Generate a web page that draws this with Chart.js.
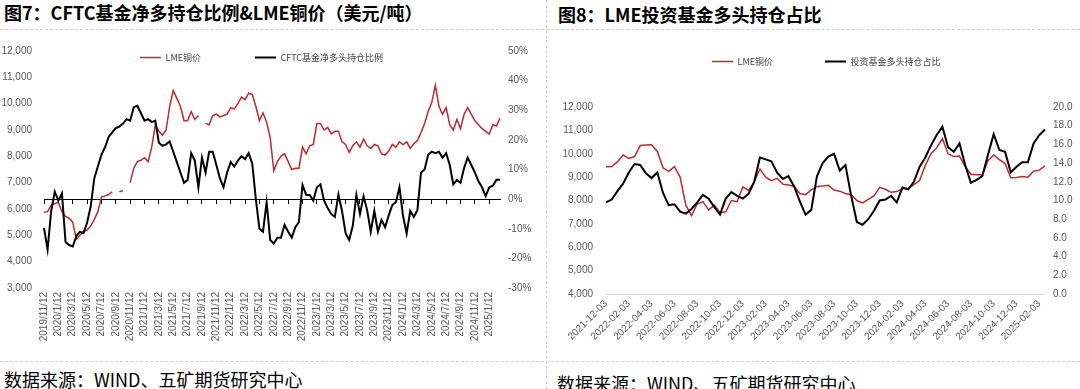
<!DOCTYPE html>
<html lang="zh-CN">
<head>
<meta charset="utf-8">
<script src="https://cdn.jsdelivr.net/npm/chart.js@4.4.1/dist/chart.umd.min.js"></script>
<style>
  body { margin: 0; width: 1080px; height: 389px; overflow: hidden; background: #fff; position: relative; font-family: "Noto Sans CJK SC", sans-serif; }
  .title { position: absolute; font-size: 18px; font-weight: 700; color: #000; line-height: 20px; white-space: nowrap; }
  .source { position: absolute; font-size: 18px; color: #000; line-height: 20px; white-space: nowrap; }
  .hline { position: absolute; left: 0; width: 1080px; border-top: 1px dashed #cfcfcf; }
  .vline { position: absolute; top: 0; left: 546px; height: 389px; border-left: 1px dashed #cfcfcf; }
  canvas { position: absolute; }
</style>
</head>
<body>
<div class="title" style="left:4px; top:2px;">图7：CFTC基金净多持仓比例&amp;LME铜价（美元/吨）</div>
<div class="title" style="left:558px; top:4px;">图8：LME投资基金多头持仓占比</div>
<div class="hline" style="top:29px;"></div>
<div class="hline" style="top:361px;"></div>
<div class="vline"></div>
<canvas id="cftcChart" width="545" height="328" style="left:0; top:32px;"></canvas>
<canvas id="fundChart" width="533" height="328" style="left:547px; top:32px;"></canvas>
<div class="source" style="left:4px; top:369px;">数据来源：WIND、五矿期货研究中心</div>
<div class="source" style="left:557px; top:373px;">数据来源：WIND、五矿期货研究中心</div>

<script>
// ========== 1. DONNÉES ==========
// Figure 7 : points semi-mensuels (le 12 et le 27), 2019/11/12 -> 2025/2/27
const cftcDates = [];
for (let i = 0; i < 128; i++) {
    const m = 10 + Math.floor(i / 2);
    cftcDates.push(`${2019 + Math.floor(m / 12)}/${m % 12 + 1}/${i % 2 ? 27 : 12}`);
}
const cftcTicks = ['2019/11/12', '2020/1/12', '2020/3/12', '2020/5/12', '2020/7/12', '2020/9/12', '2020/11/12',
    '2021/1/12', '2021/3/12', '2021/5/12', '2021/7/12', '2021/9/12', '2021/11/12',
    '2022/1/12', '2022/3/12', '2022/5/12', '2022/7/12', '2022/9/12', '2022/11/12',
    '2023/1/12', '2023/3/12', '2023/5/12', '2023/7/12', '2023/9/12', '2023/11/12',
    '2024/1/12', '2024/3/12', '2024/5/12', '2024/7/12', '2024/9/12', '2024/11/12', '2025/1/12'];

const lmeCopper7 = [
    5880, 5900, 6150, 6200, 6250, 5900, 5720, 5650, 5500, 4850, 5000, 5150, 5200, 5350, 5600, 5900,
    6450, 6500, 6550, 6650, null, 6650, 6700, null, 7000, 7550, 7800, 7850, 7950, 7800, 8350, 9200,
    8950, 8800, 9000, 9900, 10500, 10200, 9900, 9350, 9350, 9700, 9400, 9550, null, 9250, 9200, 9550,
    9600, 9500, 9550, 9600, 9850, 9800, 10000, 10250, 10150, 10400, 10350, 9900, 9350, 9650, 9300, 8700,
    7450, 7800, 8000, 8100, 7800, 7500, 7550, 7550, 8350, 8100, 8400, 8450, 9250, 9250, 9000, 9100,
    8850, 8950, 8950, 8550, 8450, 8150, 8400, 8550, 8350, 8650, 8400, 8300, 8450, 8400, 8100, 8050,
    8200, 8450, 8350, 8550, 8450, 8550, 8300, 8480, 8600, 8900, 9250, 9700, 10050, 10700, 9900, 9600,
    9850, 9200, 9000, 9400, 9050, 9600, 9850, 9600, 9350, 9200, 9050, 8950, 8850, 9200, 9150, 9450
];
const cftcNetLong = [
    -9.7, -17, -4, 2.5, -0.5, 2, -14.5, -15.5, -16, -12.5, -11, -11.5, -8, -2.5, 7, 11,
    15, 17.5, 21, 22.5, 24, 24.5, 25.5, 27, 26.5, 31, 31.5, 29, 26.5, 27, 26, 26.5,
    19, 18, 18.5, 19.5, 16, 12.5, 9, 5.5, 6.5, 15.5, 13, 4, 14, 9, 16, 16,
    11.5, 7, 4, 9, 12.5, 11, 13, 14.5, 13.5, 15.5, 12, 0, -10, -11, -1, -13.8,
    -15, -13, -13, -8.7, -11, -13, -9.5, -7.7, 4.8, 1.5, 1.4, -0.5, 4, 5, -0.5, -3,
    -5, -6, 1.5, -4, -11.5, -13.8, -9, 1.4, -5, 1, -3.7, -11, -4, -11, -7, -9.5,
    -5.5, -2, -1, 4, -5.7, -11.6, -4, -6, -3.7, 9, 10, 15, 16, 15.5, 16, 14,
    15.5, 11.5, 5, 6.5, 5.5, 10.5, 14, 11.5, 9, 6, 4, 1, 4, 4.5, 6.5, 6.5
];

// Figure 8 : points semi-mensuels (le 03 et le 18), 2021-12-03 -> 2025-02-18
const fundDates = [];
for (let i = 0; i < 78; i++) {
    const m = 11 + Math.floor(i / 2);
    fundDates.push(`${2021 + Math.floor(m / 12)}-${String(m % 12 + 1).padStart(2, '0')}-${i % 2 ? '18' : '03'}`);
}
const fundTicks = ['2021-12-03', '2022-02-03', '2022-04-03', '2022-06-03', '2022-08-03', '2022-10-03', '2022-12-03',
    '2023-02-03', '2023-04-03', '2023-06-03', '2023-08-03', '2023-10-03', '2023-12-03',
    '2024-02-03', '2024-04-03', '2024-06-03', '2024-08-03', '2024-10-03', '2024-12-03', '2025-02-03'];

const lmeCopper8 = [
    9440, 9450, 9650, 9950, 9800, 9880, 10350, 10370, 10380, 10100, 9400, 9250, 9450, 9000, 7800, 7350,
    7850, 7950, 7600, 7800, 7480, 7520, 8000, 7950, 8580, 8430, 8800, 9350, 9000, 8850, 8950, 8700,
    8660, 8600, 8300, 8250, 8450, 8600, 8620, 8650, 8450, 8400, 8300, 8250, 8000, 7900, 8050, 8200,
    8560, 8480, 8350, 8380, 8500, 8500, 8680, 8850, 9500, 10000, 10250, 10650, 10000, 9880, 9900, 9450,
    9120, 9100, 9100, 9700, 9950, 9750, 9580, 8970, 8980, 9030, 9000, 9250, 9300, 9480
];
const fundLongShare = [
    9.8, 10.1, 11.0, 11.8, 13.0, 13.9, 13.8, 12.9, 12.4, 13.0, 10.8, 9.5, 9.6, 8.8, 8.6, 9.1,
    9.8, 10.6, 10.2, 9.3, 8.5, 10.2, 10.9, 10.5, 10.2, 10.7, 12.0, 14.6, 14.4, 14.2, 13.0, 12.3,
    12.6, 11.5, 9.9, 8.5, 9.0, 12.6, 14.0, 14.7, 15.0, 13.2, 13.8, 10.5, 7.7, 7.4, 8.0, 8.9,
    10.0, 10.1, 10.5, 9.8, 11.4, 11.2, 12.0, 13.6, 14.6, 15.9, 17.0, 17.9, 15.7, 15.2, 16.1, 13.8,
    11.9, 12.2, 12.6, 14.9, 17.1, 15.4, 15.2, 13.0, 13.6, 14.1, 14.1, 16.1, 17.0, 17.6
];

// ========== 2. STYLES COMMUNS ==========
const RED = '#c0282e';
const TICK_FONT = { family: 'Liberation Sans', size: 10 };
const LEGEND_FONT = { family: 'Noto Sans CJK SC', size: 9 };
const fmtThousands = v => v.toLocaleString('en-US');

// Légende sans hauteur réservée, placée ensuite à l'endroit voulu
const legendPlace = {
    id: 'legendPlace',
    beforeInit(chart) {
        const lg = chart.legend;
        const fit = lg.fit;
        lg.fit = function () {
            fit.call(this);
            this.height = 0;
        };
    },
    afterLayout(chart, args, opts) {
        const lg = chart.legend;
        const pad = lg.options.labels.padding;
        lg.left = opts.x - pad;
        lg.top = opts.y - pad;
        lg.right = chart.width;
        lg.bottom = chart.height;
    }
};

function legendOptions(padding) {
    return {
        position: 'top',
        align: 'start',
        fullSize: false,
        labels: {
            color: '#404040',
            font: LEGEND_FONT,
            padding: padding,
            usePointStyle: true,
            pointStyle: 'line',
            pointStyleWidth: 21,
            sort: (a, b) => a.datasetIndex - b.datasetIndex
        }
    };
}

// ========== 3. FIGURE 7 ==========
new Chart(document.getElementById('cftcChart'), {
    type: 'line',
    data: {
        labels: cftcDates,
        datasets: [
            { label: 'LME铜价', data: lmeCopper7, yAxisID: 'y', borderColor: RED, backgroundColor: RED, borderWidth: 1.5, pointRadius: 0, order: 2 },
            { label: 'CFTC基金净多头持仓比例', data: cftcNetLong, yAxisID: 'y1', borderColor: '#000', backgroundColor: '#000', borderWidth: 2, pointRadius: 0, order: 1 }
        ]
    },
    options: {
        responsive: false,
        animation: false,
        devicePixelRatio: 1,
        layout: { padding: { top: 19, left: 0, right: 0, bottom: 0 } },
        plugins: {
            legend: legendOptions(54),
            tooltip: { enabled: false },
            legendPlace: { x: 140, y: 21 }
        },
        scales: {
            x: {
                grid: { display: false, drawTicks: false },
                border: { display: false },
                ticks: {
                    autoSkip: false, minRotation: 90, maxRotation: 90, padding: 4,
                    color: '#595959', font: TICK_FONT,
                    callback: (v, i) => cftcTicks.includes(cftcDates[i]) ? cftcDates[i] : ''
                },
                afterFit: s => { s.height = 72; }
            },
            x2: {
                type: 'category',
                axis: 'x',
                position: { y1: 0 },
                grid: {
                    drawOnChartArea: false, tickLength: 4, tickWidth: 1,
                    tickColor: ctx => cftcTicks.includes(cftcDates[ctx.index]) ? '#000' : 'rgba(0,0,0,0)'
                },
                border: { display: true, color: '#000', width: 1 },
                ticks: { display: false, autoSkip: false }
            },
            y: {
                position: 'left',
                min: 3000, max: 12000,
                grid: { display: false, drawTicks: false },
                border: { display: false },
                ticks: { stepSize: 1000, padding: 12, color: '#595959', font: TICK_FONT, callback: fmtThousands },
                afterFit: s => { s.width = 44; }
            },
            y1: {
                position: 'right',
                min: -30, max: 50,
                grid: { display: false, drawTicks: false },
                border: { display: false },
                ticks: { stepSize: 10, padding: 8, color: '#595959', font: TICK_FONT, callback: v => v + '%' },
                afterFit: s => { s.width = 45; }
            }
        }
    },
    plugins: [legendPlace]
});

// ========== 4. FIGURE 8 ==========
new Chart(document.getElementById('fundChart'), {
    type: 'line',
    data: {
        labels: fundDates,
        datasets: [
            { label: 'LME铜价', data: lmeCopper8, yAxisID: 'y', borderColor: RED, backgroundColor: RED, borderWidth: 1.5, pointRadius: 0, order: 2 },
            { label: '投资基金多头持仓占比', data: fundLongShare, yAxisID: 'y1', borderColor: '#000', backgroundColor: '#000', borderWidth: 2, pointRadius: 0, order: 1 }
        ]
    },
    options: {
        responsive: false,
        animation: false,
        devicePixelRatio: 1,
        layout: { padding: { top: 75, left: 0, right: 0, bottom: 0 } },
        plugins: {
            legend: legendOptions(52),
            tooltip: { enabled: false },
            legendPlace: { x: 165, y: 25 }
        },
        scales: {
            x: {
                grid: { display: false, drawTicks: false },
                border: { display: true, color: '#d9d9d9', width: 1 },
                ticks: {
                    autoSkip: false, minRotation: 45, maxRotation: 45, padding: 4,
                    color: '#595959', font: TICK_FONT,
                    callback: (v, i) => fundTicks.includes(fundDates[i]) ? fundDates[i] : ''
                },
                afterFit: s => { s.height = 66; }
            },
            y: {
                position: 'left',
                min: 4000, max: 12000,
                grid: { display: false, drawTicks: false },
                border: { display: false },
                ticks: { stepSize: 1000, padding: 13, color: '#595959', font: TICK_FONT, callback: fmtThousands },
                afterFit: s => { s.width = 59; }
            },
            y1: {
                position: 'right',
                min: 0, max: 20,
                grid: { display: false, drawTicks: false },
                border: { display: false },
                ticks: { stepSize: 2, padding: 8, color: '#595959', font: TICK_FONT, callback: v => v.toFixed(1) },
                afterFit: s => { s.width = 35; }
            }
        }
    },
    plugins: [legendPlace]
});
</script>
</body>
</html>
